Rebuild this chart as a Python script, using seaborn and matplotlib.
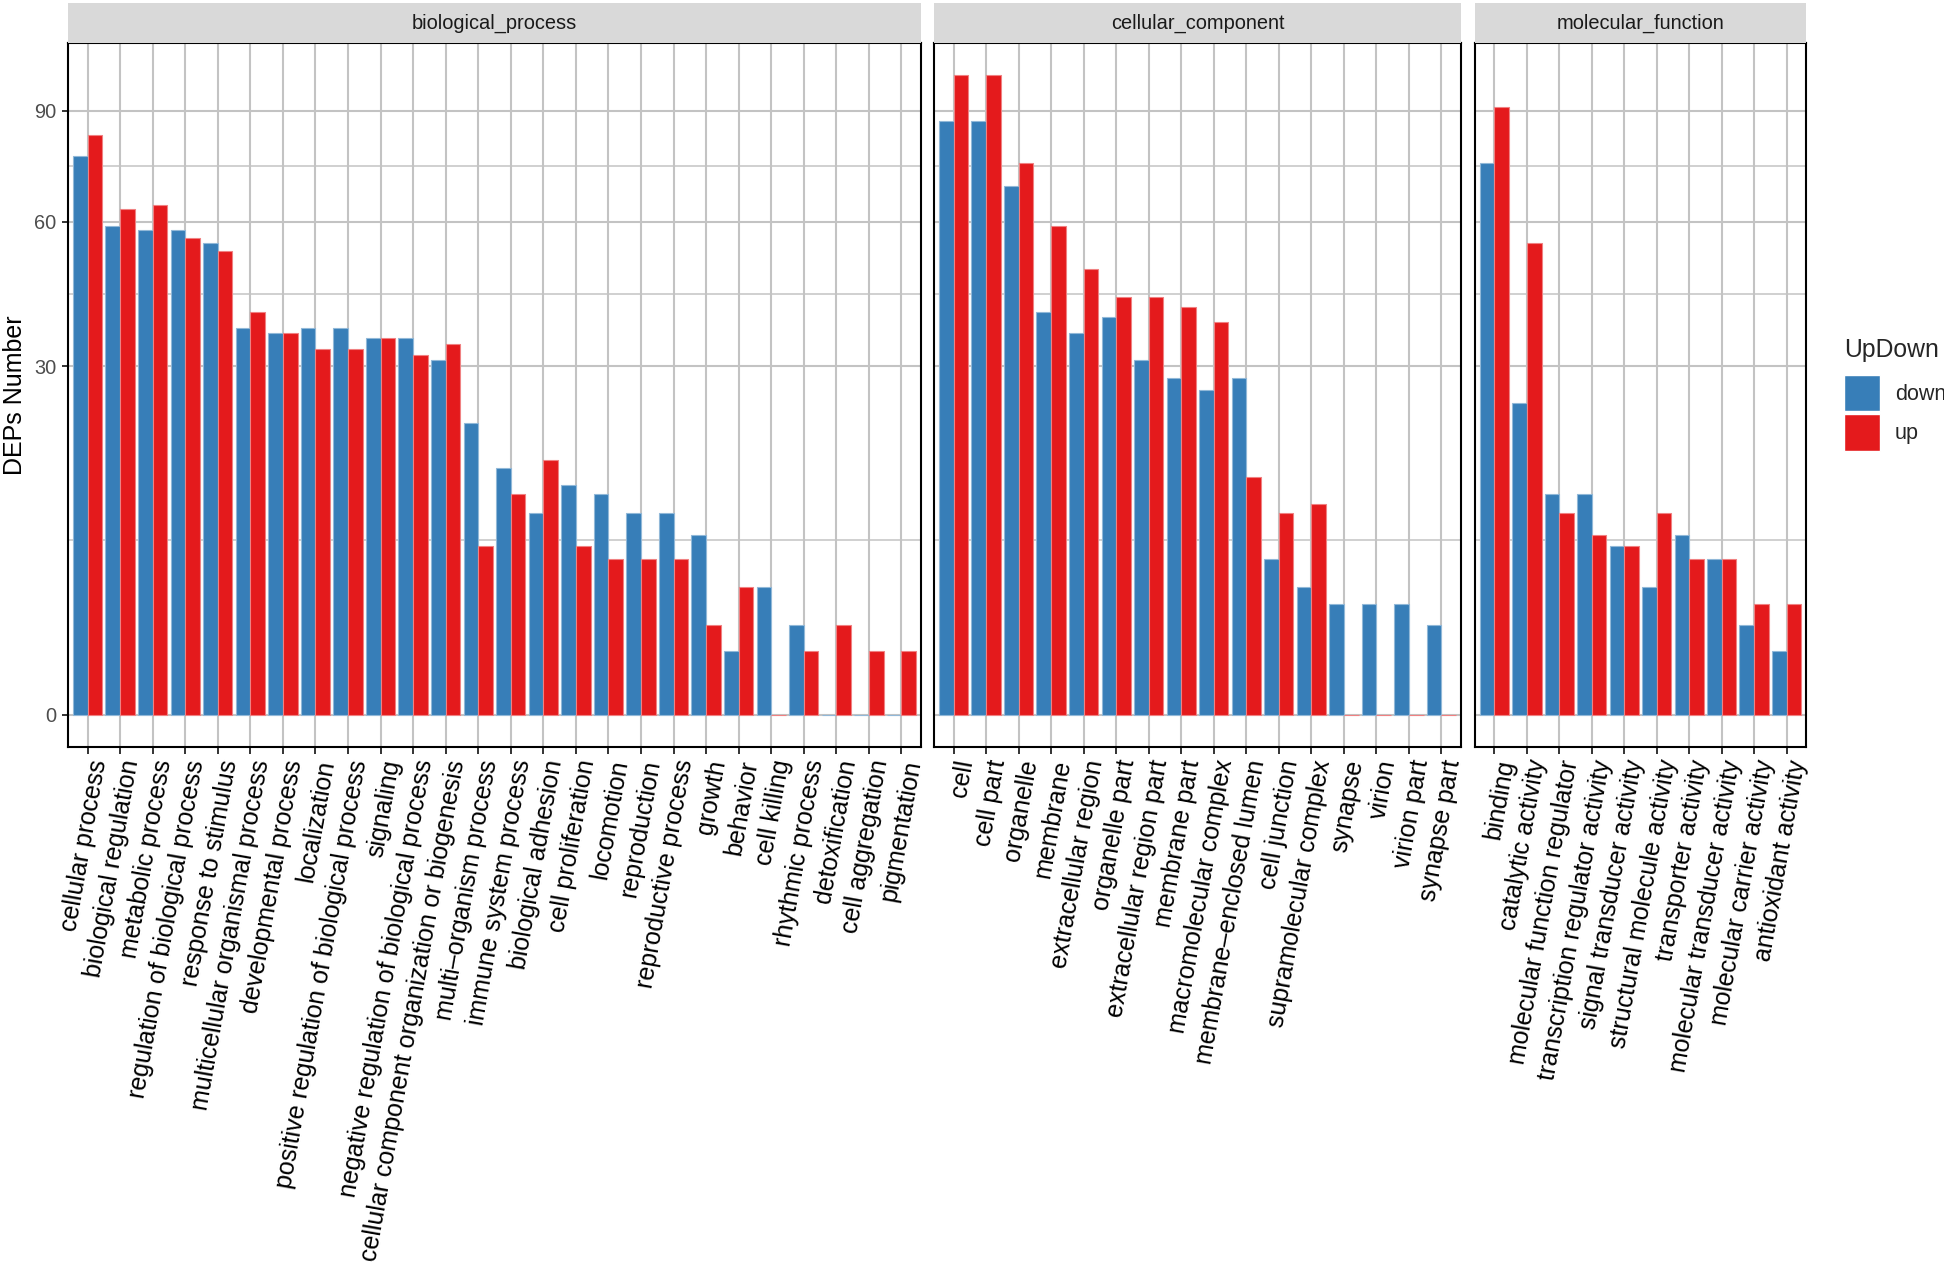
import numpy as np
import pandas as pd
import matplotlib
matplotlib.use("Agg")
import matplotlib.pyplot as plt
import seaborn as sns
from matplotlib.ticker import FixedLocator
from matplotlib.colors import to_rgb

# ---------------- data ----------------
bp_terms = ["cellular process", "biological regulation", "metabolic process",
            "regulation of biological process", "response to stimulus",
            "multicellular organismal process", "developmental process", "localization",
            "positive regulation of biological process", "signaling",
            "negative regulation of biological process",
            "cellular component organization or biogenesis", "multi\u2013organism process",
            "immune system process", "biological adhesion", "cell proliferation",
            "locomotion", "reproduction", "reproductive process", "growth", "behavior",
            "cell killing", "rhythmic process", "detoxification", "cell aggregation",
            "pigmentation"]
bp_down = [77, 59, 58, 58, 55, 37, 36, 37, 37, 35, 35, 31, 21, 15, 10, 13, 12, 10, 10, 8, 1, 4, 2, 0, 0, 0]
bp_up = [83, 63, 64, 56, 53, 40, 36, 33, 33, 35, 32, 34, 7, 12, 16, 7, 6, 6, 6, 2, 4, 0, 1, 2, 1, 1]

cc_terms = ["cell", "cell part", "organelle", "membrane", "extracellular region",
            "organelle part", "extracellular region part", "membrane part",
            "macromolecular complex", "membrane\u2013enclosed lumen", "cell junction",
            "supramolecular complex", "synapse", "virion", "virion part", "synapse part"]
cc_down = [87, 87, 69, 40, 36, 39, 31, 28, 26, 28, 6, 4, 3, 3, 3, 2]
cc_up = [101, 101, 75, 59, 49, 43, 43, 41, 38, 14, 10, 11, 0, 0, 0, 0]

mf_terms = ["binding", "catalytic activity", "molecular function regulator",
            "transcription regulator activity", "signal transducer activity",
            "structural molecule activity", "transporter activity",
            "molecular transducer activity", "molecular carrier activity",
            "antioxidant activity"]
mf_down = [75, 24, 12, 12, 7, 4, 8, 6, 2, 1]
mf_up = [91, 55, 10, 8, 7, 10, 6, 6, 3, 3]

facets = ["biological_process", "cellular_component", "molecular_function"]
groups = ["down", "up"]
colors = {"down": "#377EB8", "up": "#E41A1C"}
y_breaks = [0, 30, 60, 90]

# ---------------- style ----------------
sns.set_style("white")
plt.rcParams["font.family"] = ["Liberation Sans", "DejaVu Sans"]

W, H = 1944, 1267
fig = plt.figure(figsize=(W / 100, H / 100), dpi=100)

def fwd(y):
    y = np.asarray(y, dtype=float)
    return np.sign(y) * np.sqrt(np.abs(y))

def inv(y):
    y = np.asarray(y, dtype=float)
    return np.sign(y) * y ** 2

panel_px = [(68, 921), (934, 1461), (1475, 1806)]
top_px, bot_px = 43, 746.7
strip_top = 3.3

data_sets = [(bp_terms, bp_down, bp_up), (cc_terms, cc_down, cc_up), (mf_terms, mf_down, mf_up)]

all_vals = bp_down + bp_up + cc_down + cc_up + mf_down + mf_up
smax = np.sqrt(max(all_vals))
lo = -(0.05 * smax) ** 2
hi = (smax * 1.05) ** 2

sb = np.sqrt(y_breaks)
minor = [((sb[i] + sb[i + 1]) / 2) ** 2 for i in range(len(sb) - 1)]

grid_col = "#C3C3C3"
axes = []
for i, (facet, (terms, down, up)) in enumerate(zip(facets, data_sets)):
    x0, x1 = panel_px[i]
    ax = fig.add_axes([x0 / W, 1 - bot_px / H, (x1 - x0) / W, (bot_px - top_px) / H])
    n = len(terms)
    df = pd.DataFrame({"term": terms + terms,
                       "UpDown": ["down"] * n + ["up"] * n,
                       "count": list(down) + list(up)})
    sns.barplot(data=df, x="term", y="count", hue="UpDown", order=terms,
                hue_order=groups, palette=colors, width=0.9, gap=0,
                errorbar=None, saturation=1, ax=ax, legend=(i == 0))
    for p in ax.patches:
        fc = np.array(to_rgb(p.get_facecolor()))
        p.set_edgecolor(tuple(fc * 0.55 + 0.45))
        p.set_linewidth(0.8)
    ax.set_yscale("function", functions=(fwd, inv))
    ax.set_ylim(lo, hi)
    ax.set_xlim(-0.6, n - 0.4)
    ax.set_yticks(y_breaks)
    ax.yaxis.set_minor_locator(FixedLocator(minor))
    ax.set_axisbelow(True)
    ax.grid(axis="both", which="major", color=grid_col, linewidth=1.5)
    ax.grid(axis="y", which="minor", color=grid_col, linewidth=1.1)
    ax.set_xlabel("")
    ax.set_ylabel("")
    for s in ax.spines.values():
        s.set_color("black")
        s.set_linewidth(1.5)
    ax.tick_params(axis="x", which="major", length=5, width=1.4, color="#333333",
                   pad=3, labelsize=18, labelcolor="black", bottom=True)
    ax.tick_params(axis="y", which="minor", length=0)
    if i == 0:
        ax.tick_params(axis="y", which="major", length=4.5, width=1.4, color="#333333",
                       pad=4, labelsize=14.4, labelcolor="#4D4D4D", left=True)
    else:
        ax.tick_params(axis="y", which="major", length=0, labelleft=False)
    plt.setp(ax.get_xticklabels(), rotation=80, ha="right", va="top",
             rotation_mode="anchor")
    # facet strip
    sax = fig.add_axes([x0 / W, 1 - top_px / H, (x1 - x0) / W, (top_px - strip_top) / H])
    sax.set_facecolor("#D9D9D9")
    sax.set_xticks([])
    sax.set_yticks([])
    for s in sax.spines.values():
        s.set_visible(False)
    sax.text(0.5, 0.5, facet, ha="center", va="center", fontsize=14.4,
             color="#1A1A1A", transform=sax.transAxes)
    axes.append(ax)

leg = axes[0].get_legend()
handles = leg.legend_handles
labels = [t.get_text() for t in leg.get_texts()]
leg.remove()
flegend = fig.legend(handles, labels, title="UpDown", loc="upper left",
                     bbox_to_anchor=(1844 / W, 1 - 338 / H), frameon=False,
                     fontsize=15.5, title_fontsize=17.8, handlelength=1.67, handleheight=2.26,
                     handletextpad=0.7, labelspacing=0.135, borderpad=0, borderaxespad=0,
                     alignment="left")
flegend._legend_box.sep = 9

fig.text(15 / W, 1 - 395 / H, "DEPs Number", rotation=90, ha="center", va="center",
         fontsize=18, color="black")

fig.savefig("out.png", dpi=100, facecolor="white")
